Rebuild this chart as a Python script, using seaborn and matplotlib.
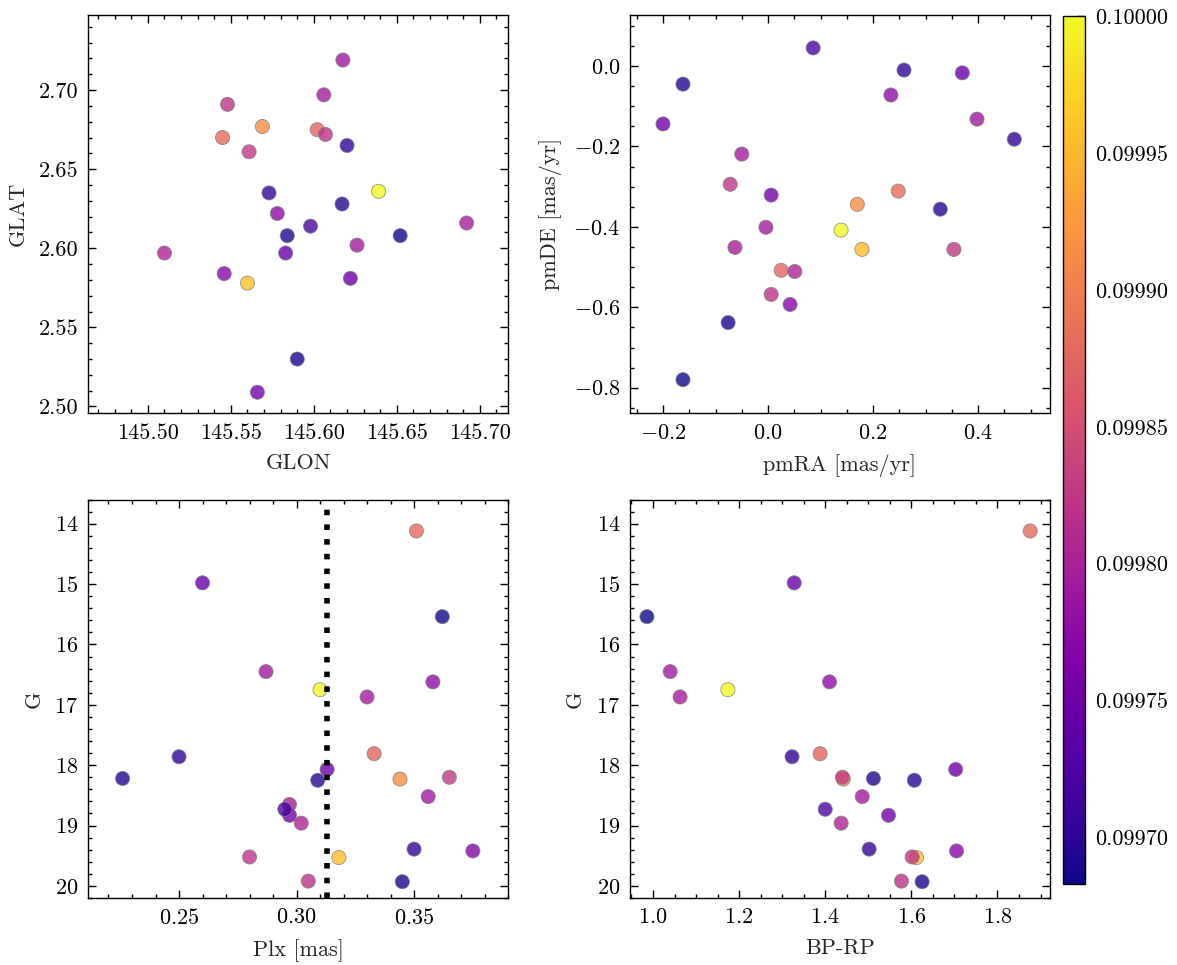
import numpy as np
import pandas as pd
import seaborn as sns
import matplotlib
matplotlib.use("Agg")
import matplotlib.pyplot as plt
from matplotlib.ticker import AutoMinorLocator, FormatStrFormatter
from matplotlib.colors import Normalize
from matplotlib.cm import ScalarMappable

# --- member stars, ordered by probability, high first ---
glon = [145.639, 145.560, 145.569, 145.545, 145.602, 145.561, 145.548, 145.607,
        145.510, 145.692, 145.606, 145.626, 145.6175, 145.578, 145.546, 145.566,
        145.622, 145.583, 145.598, 145.573, 145.620, 145.617, 145.584, 145.590, 145.652]
glat = [2.636, 2.578, 2.677, 2.670, 2.675, 2.661, 2.691, 2.672,
        2.597, 2.616, 2.697, 2.602, 2.719, 2.622, 2.584, 2.509,
        2.581, 2.597, 2.614, 2.635, 2.665, 2.628, 2.608, 2.530, 2.608]
pmra = [0.139, 0.179, 0.170, 0.248, 0.025, 0.354, -0.072, 0.006,
        0.051, -0.063, -0.050, -0.004, 0.398, 0.234, 0.042, 0.006,
        -0.200, 0.370, 0.086, 0.469, 0.259, 0.328, -0.162, -0.076, -0.162]
pmde = [-0.408, -0.456, -0.344, -0.311, -0.508, -0.456, -0.294, -0.568,
        -0.511, -0.451, -0.219, -0.401, -0.132, -0.072, -0.593, -0.321,
        -0.144, -0.017, 0.045, -0.182, -0.010, -0.356, -0.045, -0.638, -0.780]
plx = [0.310, 0.318, 0.344, 0.351, 0.333, 0.365, 0.280, 0.305,
       0.302, 0.297, 0.330, 0.356, 0.287, 0.358, 0.375, 0.297,
       0.313, 0.260, 0.295, 0.350, 0.250, 0.309, 0.226, 0.345, 0.362]
gmag = [16.75, 19.53, 18.23, 14.12, 17.81, 18.20, 19.52, 19.92,
        18.96, 18.65, 16.87, 18.52, 16.45, 16.62, 19.42, 18.83,
        18.07, 14.98, 18.73, 19.39, 17.86, 18.25, 18.22, 19.93, 15.54]
bprp = [1.174, 1.612, 1.442, 1.876, 1.388, 1.440, 1.602, 1.577,
        1.437, np.nan, 1.063, 1.486, 1.040, 1.410, 1.705, 1.547,
        1.703, 1.328, 1.400, 1.502, 1.323, 1.607, 1.512, 1.625, 0.986]
prob = [0.100000, 0.099956, 0.099914, 0.099880, 0.099873, 0.099826, 0.099822, 0.099819,
        0.099803, 0.099797, 0.099794, 0.099793, 0.099791, 0.099778, 0.099769, 0.099753,
        0.099750, 0.099746, 0.099721, 0.099705, 0.099702, 0.099696, 0.099693, 0.099689, 0.099683]

PLX_MEAN = 0.313
CBAR_TICKS = [0.09970, 0.09975, 0.09980, 0.09985, 0.09990, 0.09995, 0.10000]

df = pd.DataFrame({"GLON": glon, "GLAT": glat, "pmRA": pmra, "pmDE": pmde,
                   "Plx": plx, "G": gmag, "BP-RP": bprp, "prob": prob})

sns.set_style("ticks", {"xtick.direction": "in", "ytick.direction": "in"})
plt.rcParams.update({
    "font.family": "serif",
    "font.serif": ["cmr10"],
    "mathtext.fontset": "cm",
    "axes.formatter.use_mathtext": True,
    "font.size": 8,
    "axes.labelsize": 8,
    "xtick.labelsize": 8,
    "ytick.labelsize": 8,
    "axes.linewidth": 0.5,
    "axes.edgecolor": "black",
    "xtick.top": True,
    "ytick.right": True,
    "xtick.major.size": 3,
    "ytick.major.size": 3,
    "xtick.minor.size": 1.5,
    "ytick.minor.size": 1.5,
    "xtick.major.width": 0.5,
    "ytick.major.width": 0.5,
    "xtick.minor.width": 0.5,
    "ytick.minor.width": 0.5,
    "xtick.color": "black",
    "ytick.color": "black",
})

vmin, vmax = min(prob), max(prob)
pt_kw = dict(hue="prob", palette="plasma", hue_norm=(vmin, vmax), legend=False,
             s=26, alpha=0.8, edgecolor="gray", linewidth=0.3)

fig, axes = plt.subplots(2, 2, figsize=(1177 / 200, 965 / 200), dpi=200)
fig.subplots_adjust(left=0.0748, right=0.8921, bottom=0.0694, top=0.9845,
                    wspace=0.29, hspace=0.216)

panels = [
    (axes[0, 0], "GLON", "GLAT", "GLON", "GLAT", (145.464, 145.717), (2.4956, 2.7475)),
    (axes[0, 1], "pmRA", "pmDE", "pmRA [mas/yr]", "pmDE [mas/yr]", (-0.263, 0.537), (-0.864, 0.127)),
    (axes[1, 0], "Plx", "G", "Plx [mas]", "G", (0.2113, 0.390), (20.2, 13.6)),
    (axes[1, 1], "BP-RP", "G", "BP-RP", "G", (0.9465, 1.922), (20.2, 13.6)),
]

for ax, xc, yc, xl, yl, xlim, ylim in panels:
    sns.scatterplot(data=df, x=xc, y=yc, ax=ax, **pt_kw)
    ax.set_xlim(*xlim)
    ax.set_ylim(*ylim)
    ax.set_xlabel(xl)
    ax.set_ylabel(yl)
    ax.xaxis.set_minor_locator(AutoMinorLocator())
    ax.yaxis.set_minor_locator(AutoMinorLocator())
    ax.tick_params(which="both", direction="in", top=True, right=True)

axes[0, 0].xaxis.set_major_formatter(FormatStrFormatter("%.2f"))
axes[0, 0].yaxis.set_major_formatter(FormatStrFormatter("%.2f"))
axes[1, 0].axvline(PLX_MEAN, color="black", linestyle=":", linewidth=2)

# shared colour bar
cax = fig.add_axes([0.9031, 0.0839, 0.0187, 0.8995])
sm = ScalarMappable(norm=Normalize(vmin=vmin, vmax=vmax), cmap="plasma")
cbar = fig.colorbar(sm, cax=cax)
cbar.set_ticks(CBAR_TICKS)
cbar.ax.yaxis.set_major_formatter(FormatStrFormatter("%.5f"))
cbar.ax.yaxis.set_minor_locator(AutoMinorLocator(4))
cbar.ax.tick_params(which="both", direction="in")
cbar.outline.set_linewidth(0.5)

fig.savefig("out.png", dpi=200)
